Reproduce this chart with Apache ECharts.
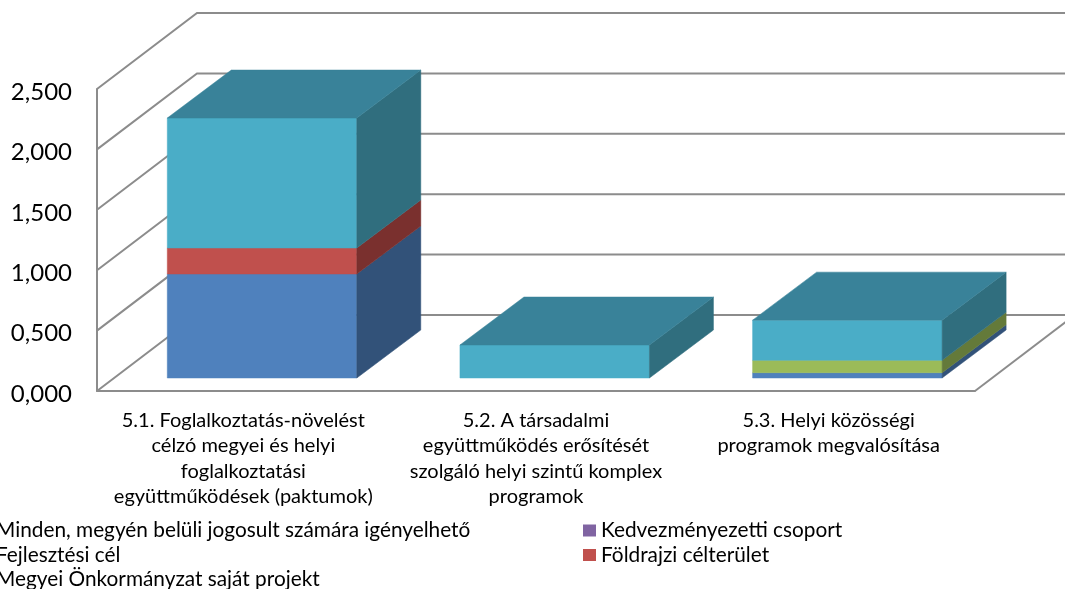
<!DOCTYPE html>
<html>
<head>
<meta charset="utf-8">
<style>html,body{margin:0;padding:0;background:#fff}#c{width:1065px;height:589px}</style>
<script src="https://cdn.jsdelivr.net/npm/echarts@6/dist/echarts.min.js"></script>
</head>
<body>
<div id="c"></div>
<script>
const categories = [
  "5.1. Foglalkoztatás-növelést\ncélzó megyei és helyi\nfoglalkoztatási\negyüttműködések (paktumok)",
  "5.2. A társadalmi\negyüttműködés erősítését\nszolgáló helyi szintű komplex\nprogramok",
  "5.3. Helyi közösségi\nprogramok megvalósítása"
];
const tickValues = [0, 0.5, 1, 1.5, 2, 2.5];
const minden = [0.861, 0, 0.044];
const foldrajzi = [0.215, 0, 0];
const fejlesztesi = [0, 0, 0.102];
const kedvezmenyezetti = [0, 0, 0];
const megyei = [1.076, 0.273, 0.333];

const stackOrder = [
  {name: "Minden, megyén belüli jogosult számára igényelhető", values: minden, front: "#4F81BD", side: "#325279"},
  {name: "Földrajzi célterület", values: foldrajzi, front: "#C0504D", side: "#7A302E"},
  {name: "Fejlesztési cél", values: fejlesztesi, front: "#9BBB59", side: "#647A3A"},
  {name: "Kedvezményezetti csoport", values: kedvezmenyezetti, front: "#8064A2", side: "#523F69"},
  {name: "Megyei Önkormányzat saját projekt", values: megyei, front: "#4AADC7", side: "#306E7E", top: "#398299"}
];

const FONT = "Lato, Carlito, Calibri, sans-serif";
const GRID_COLOR = "#8C8C8C";
const WALL = [100, -76];     // oblique offset of the back wall
const BAR_INSET = [18.7, -13]; // bar front plane relative to the axis plane
const BAR_DEPTH = [64, -48];
const BAR_WIDTH = 189.5;

const base = categories.map(() => 0);
const series = [{
  type: "custom", name: "walls", silent: true, z: 1,
  coordinateSystem: "cartesian2d",
  data: tickValues.map(v => [0, v]),
  renderItem(params, api) {
    const cs = params.coordSys, v = api.value(1), y = api.coord([0, v])[1];
    const l = cs.x, r = cs.x + cs.width;
    const children = [{
      type: "polyline",
      shape: {points: [[l, y], [l + WALL[0], y + WALL[1]], [r + WALL[0] + 10, y + WALL[1]]]},
      style: {stroke: GRID_COLOR, lineWidth: 2, fill: null}
    }];
    if (v === 0) children.push({
      type: "line",
      shape: {x1: r, y1: y, x2: r + WALL[0], y2: y + WALL[1]},
      style: {stroke: GRID_COLOR, lineWidth: 2}
    });
    return {type: "group", children};
  }
}];

stackOrder.forEach((s, si) => {
  const data = s.values.map((v, i) => {
    const start = base[i];
    base[i] += v;
    const isTop = v > 0 && stackOrder.slice(si + 1).every(o => !o.values[i]);
    return [i, start, base[i], isTop ? 1 : 0];
  });
  series.push({
    type: "custom", name: s.name, z: 2,
    coordinateSystem: "cartesian2d",
    itemStyle: {color: s.front},
    encode: {x: 0, y: [1, 2]},
    data,
    renderItem(params, api) {
      const i = api.value(0), a = api.value(1), b = api.value(2);
      if (b <= a) return {type: "group", children: []};
      const c0 = api.coord([i, a]), c1 = api.coord([i, b]);
      const x0 = c0[0] + BAR_INSET[0] - BAR_WIDTH / 2, x1 = x0 + BAR_WIDTH;
      const y0 = c0[1] + BAR_INSET[1], y1 = c1[1] + BAR_INSET[1];
      const [dx, dy] = BAR_DEPTH;
      const face = (points, color) => ({
        type: "polygon", shape: {points},
        style: {fill: color, stroke: color, lineWidth: 0.5}
      });
      const children = [
        face([[x0, y1], [x1, y1], [x1, y0], [x0, y0]], s.front),
        face([[x1, y1], [x1 + dx, y1 + dy], [x1 + dx, y0 + dy], [x1, y0]], s.side)
      ];
      if (api.value(3)) children.push(face([[x0, y1], [x0 + dx, y1 + dy], [x1 + dx, y1 + dy], [x1, y1]], s.top || s.side));
      return {type: "group", children};
    }
  });
});

const legendBase = {
  orient: "vertical", itemWidth: 13, itemHeight: 12, itemGap: 3.5, icon: "rect",
  selectedMode: false, height: 100, padding: 0,
  textStyle: {fontFamily: FONT, fontSize: 20.8, lineHeight: 19, color: "#000"}
};

const chart = echarts.init(document.getElementById("c"), null, {renderer: "canvas"});
chart.setOption({
  animation: false,
  backgroundColor: "#fff",
  grid: {left: 97, right: 90, top: 89, bottom: 198},
  xAxis: {
    type: "category", data: categories,
    axisLine: {lineStyle: {color: GRID_COLOR, width: 2}},
    axisTick: {show: false},
    axisLabel: {interval: 0, margin: 17, fontFamily: FONT, fontSize: 20, lineHeight: 25.3, color: "#000", align: "center"}
  },
  yAxis: {
    type: "value", min: 0, max: 2.5, interval: 0.5,
    splitLine: {show: false},
    axisLine: {show: true, lineStyle: {color: GRID_COLOR, width: 2}},
    axisTick: {show: false},
    axisLabel: {margin: 25, fontFamily: FONT, fontSize: 24, color: "#000", verticalAlign: "top", lineHeight: 6,
      formatter: v => v.toFixed(3).replace(".", ",")}
  },
  legend: [
    Object.assign({}, legendBase, {left: -22, top: 520, data: [stackOrder[0].name, stackOrder[2].name, stackOrder[4].name]}),
    Object.assign({}, legendBase, {left: 583, top: 520, data: [stackOrder[3].name, stackOrder[1].name]})
  ],
  series
});
</script>
</body>
</html>
